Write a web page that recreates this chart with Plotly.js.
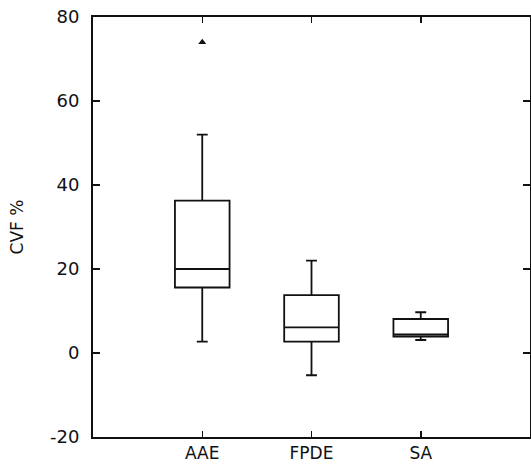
<!DOCTYPE html>
<html>
<head>
<meta charset="utf-8">
<script src="https://cdn.plot.ly/plotly-3.0.1.min.js"></script>
<style>html,body{margin:0;padding:0;background:#fff;}#chart{width:531px;height:465px;}</style>
</head>
<body>
<div id="chart"></div>
<script>
const categories = ["AAE", "FPDE", "SA"];
const positions = [0, 1, 2];
const lowerWhisker = [2.7, -5.3, 3.1];
const q1 = [15.6, 2.7, 3.9];
const median = [20.0, 6.1, 4.4];
const q3 = [36.3, 13.8, 8.1];
const upperWhisker = [52.0, 22.0, 9.7];
const outlierX = [0];
const outlierY = [74.0];
const yTicks = [-20, 0, 20, 40, 60, 80];
const yTickText = ["-20", "0", "20", "40", "60", "80"];

const fam = "DejaVu Sans, Liberation Sans, Arial, sans-serif";

const traces = [
  {
    type: "box",
    x: positions,
    q1: q1,
    median: median,
    q3: q3,
    lowerfence: lowerWhisker,
    upperfence: upperWhisker,
    width: 0.5,
    whiskerwidth: 0.2,
    boxpoints: false,
    fillcolor: "rgba(0,0,0,0)",
    line: {color: "#111", width: 1.8},
    showlegend: false,
    hoverinfo: "skip"
  },
  {
    type: "scatter",
    mode: "markers",
    x: outlierX,
    y: outlierY,
    marker: {symbol: "triangle-up", size: 7, color: "#111"},
    showlegend: false,
    hoverinfo: "skip"
  }
];

const layout = {
  width: 531,
  height: 465,
  margin: {l: 93, r: 1, t: 17, b: 28, pad: 0},
  paper_bgcolor: "#fff",
  plot_bgcolor: "#fff",
  font: {family: fam, size: 17, color: "#111"},
  showlegend: false,
  xaxis: {
    range: [-1, 3],
    tickvals: positions,
    ticktext: categories,
    ticks: "inside",
    ticklen: 6,
    tickwidth: 1.5,
    tickcolor: "#111",
    showline: true,
    linecolor: "#111",
    linewidth: 2,
    mirror: "ticks",
    showgrid: false,
    zeroline: false,
    tickfont: {family: fam, size: 17, color: "#111"}
  },
  yaxis: {
    range: [-20, 80],
    tickvals: yTicks,
    ticktext: yTickText,
    ticks: "inside",
    ticklen: 7,
    tickwidth: 1.5,
    tickcolor: "#111",
    showline: true,
    linecolor: "#111",
    linewidth: 2,
    mirror: "ticks",
    showgrid: false,
    zeroline: false,
    ticklabelstandoff: 8,
    tickfont: {family: fam, size: 18, color: "#111"},
    title: {text: "CVF %", font: {family: fam, size: 17, color: "#111"}, standoff: 22}
  }
};

Plotly.newPlot("chart", traces, layout, {displayModeBar: false, staticPlot: true});
</script>
</body>
</html>
